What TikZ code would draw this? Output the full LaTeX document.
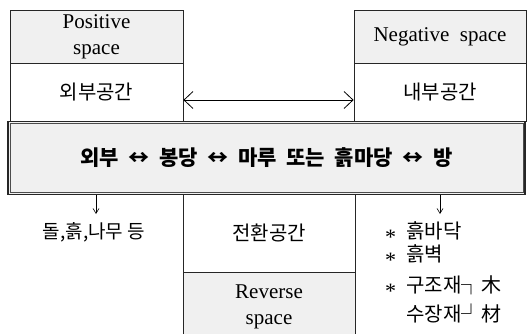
\documentclass[tikz,border=0pt]{standalone}
\usepackage{fontspec}
\setmainfont{Liberation Serif}
\newfontfamily\kr{Noto Sans CJK KR}
\usetikzlibrary{arrows.meta}

\tikzset{
  cell/.style={draw=black!85,line width=.8pt,inner sep=0pt,align=center},
  hdr/.style={cell,fill=black!6,font=\fontsize{21}{26}\selectfont},
  kor/.style={font=\kr\fontsize{20}{24}\selectfont},
  lr/.style={{Straight Barb[length=9pt,width=17pt]}-{Straight Barb[length=9pt,width=17pt]},line width=.8pt},
  dn/.style={-{Straight Barb[length=5pt,width=6pt]},line width=.6pt},
}
\newcommand{\bul}{\makebox[21pt][l]{\raisebox{-6pt}{\rmfamily\fontsize{22}{22}\selectfont *}}}

\begin{document}
\begin{tikzpicture}[x=1pt,y=-1pt]
\useasboundingbox (0,0) rectangle (527,334);
\clip (0,0) rectangle (527,334);
% upper boxes
\node[hdr,minimum width=173,minimum height=53] (pos) at (96.5,36.5) {Positive\\space};
\node[cell,kor,minimum width=173,minimum height=58] (outL) at (96.5,92) {외부공간};
\node[hdr,minimum width=172,minimum height=53] (neg) at (440,36.5) {Negative\ \ space};
\node[cell,kor,minimum width=172,minimum height=58] (inR) at (440,92) {내부공간};
\draw[lr] ([yshift=-8pt]outL.east) -- ([yshift=-8pt]inR.west);
% main band
\node[cell,fill=black!6,line width=1.6pt,minimum width=517,minimum height=73,
      font=\kr\bfseries\fontsize{21}{25}\selectfont] (main) at (266.5,158)
      {외부 \ ↔ \ 봉당 \ ↔ \ 마루 \ 또는 \ 흙마당 \ ↔ \ 방};
\draw[black!70,line width=.5pt] ([shift={(3pt,-3pt)}]main.north west) rectangle ([shift={(-3pt,3pt)}]main.south east);
% lower boxes
\node[cell,kor,minimum width=172,minimum height=78] (trans) at (269,233) {전환공간};
\node[hdr,minimum width=172,minimum height=70] (rev) at (269,307) {Reverse\\space};
% materials
\node[kor,font=\kr\fontsize{19}{23}\selectfont,inner sep=1pt] (mat) at (94,232) {돌,흙,나무 등};
\coordinate (matTip) at (96,214);
\draw[dn] (matTip |- main.south) -- (matTip);
\node[kor,anchor=west,inner sep=0pt] (l1) at (385,233) {\bul 흙바닥};
\node[kor,anchor=west,inner sep=0pt] (l2) at (385,256) {\bul 흙벽};
\node[kor,anchor=west,inner sep=0pt] (l3) at (385,287) {\bul 구조재┐木};
\node[kor,anchor=west,inner sep=0pt] (l4) at (385,313) {\makebox[21pt][l]{}수장재┘材};
\coordinate (listTip) at (440,214);
\draw[dn] (listTip |- main.south) -- (listTip);
\end{tikzpicture}
\end{document}
